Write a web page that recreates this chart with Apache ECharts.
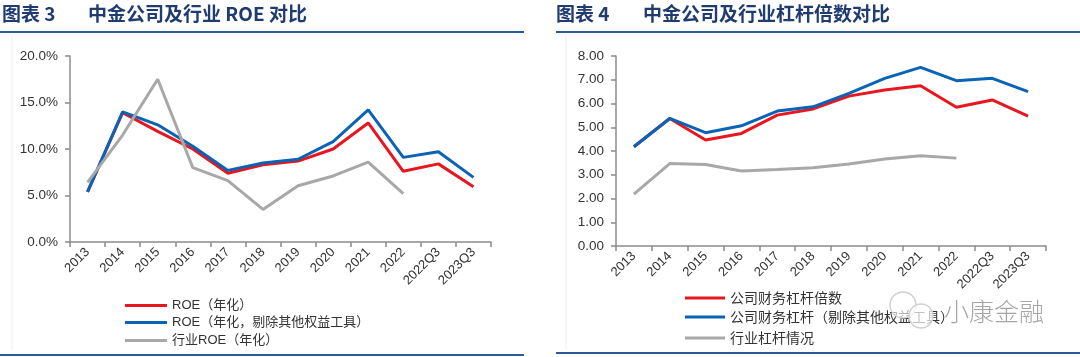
<!DOCTYPE html>
<html>
<head>
<meta charset="utf-8">
<script src="https://cdn.jsdelivr.net/npm/echarts@6/dist/echarts.min.js"></script>
<style>
html,body{margin:0;padding:0;background:#fff;}
#c{width:1080px;height:357px;}
</style>
</head>
<body>
<div id="c"></div>
<script>
const categories = ['2013','2014','2015','2016','2017','2018','2019','2020','2021','2022','2022Q3','2023Q3'];
// Chart 3: ROE (%)
const roe      = [5.4, 13.9, 11.9, 10.0, 7.4, 8.3, 8.7, 10.0, 12.8, 7.6, 8.4, 5.95];
const roeAdj   = [5.4, 14.0, 12.6, 10.3, 7.7, 8.5, 8.9, 10.8, 14.2, 9.1, 9.7, 6.95];
const roeInd   = [6.4, 11.5, 17.5, 8.0, 6.6, 3.5, 6.05, 7.1, 8.6, 5.2, null, null];
// Chart 4: leverage multiples
const lev      = [4.18, 5.37, 4.46, 4.74, 5.51, 5.77, 6.31, 6.57, 6.75, 5.84, 6.15, 5.47];
const levAdj   = [4.18, 5.37, 4.77, 5.06, 5.68, 5.86, 6.43, 7.06, 7.52, 6.96, 7.06, 6.50];
const levInd   = [2.18, 3.47, 3.43, 3.16, 3.22, 3.29, 3.45, 3.66, 3.80, 3.70, null, null];

const roeNames = ['ROE（年化）', 'ROE（年化，剔除其他权益工具）', '行业ROE（年化）'];
const levNames = ['公司财务杠杆倍数', '公司财务杠杆（剔除其他权益工具）', '行业杠杆情况'];
const title3a = '图表 3', title3b = '中金公司及行业 ROE 对比';
const title4a = '图表 4', title4b = '中金公司及行业杠杆倍数对比';
const watermark = '小康金融';

const RED = '#E8161E', BLUE = '#0A63B5', GRAY = '#A8A8A8';
const AXIS = '#8C8C8C', TXT = '#333333';
const FONT = '"Liberation Sans","Noto Sans CJK SC",sans-serif';
const CJK = '"Noto Sans CJK SC",sans-serif';
const TITLE_C = '#1F3B70', RULE_C = '#2D5A9B';

const chart = echarts.init(document.getElementById('c'), null, {renderer: 'canvas'});

function xAxis(gi) {
  return {
    type: 'category', gridIndex: gi, data: categories, boundaryGap: true,
    axisLine: {lineStyle: {color: AXIS, width: 1.5}},
    axisTick: {show: true, length: 5, alignWithLabel: false, lineStyle: {color: AXIS, width: 1.5}},
    axisLabel: {rotate: 45, interval: 0, fontSize: 13, color: TXT, fontFamily: FONT, margin: 8}
  };
}
function yAxis(gi, max, interval, fmt) {
  return {
    type: 'value', gridIndex: gi, min: 0, max: max, interval: interval,
    splitLine: {show: false},
    axisLine: {show: true, lineStyle: {color: AXIS, width: 1.5}},
    axisTick: {show: true, length: 5, lineStyle: {color: AXIS, width: 1.5}},
    axisLabel: {fontSize: 13.5, color: TXT, fontFamily: FONT, margin: 12, formatter: fmt}
  };
}
function line(name, data, color, xi) {
  return {
    name: name, type: 'line', data: data, xAxisIndex: xi, yAxisIndex: xi,
    symbol: 'none', smooth: false, connectNulls: false,
    lineStyle: {color: color, width: 3}, itemStyle: {color: color},
    emphasis: {disabled: true}, animation: false
  };
}
function leg(name, left, top, fs, fam, w) {
  return {
    data: [name], orient: 'horizontal', left: left, top: top,
    itemWidth: w, itemHeight: 3, icon: 'rect', padding: 0,
    textStyle: {fontSize: fs, color: TXT, fontFamily: fam},
    selectedMode: false
  };
}

const option = {
  animation: false,
  backgroundColor: '#ffffff',
  grid: [
    {left: 70, top: 56, width: 421, height: 186},
    {left: 616, top: 56, width: 430, height: 190}
  ],
  xAxis: [xAxis(0), xAxis(1)],
  yAxis: [
    yAxis(0, 20, 5, v => v.toFixed(1) + '%'),
    yAxis(1, 8, 1, v => v.toFixed(2))
  ],
  legend: [
    leg(roeNames[0], 125, 299, 13, FONT, 42),
    leg(roeNames[1], 125, 316, 13, FONT, 42),
    leg(roeNames[2], 125, 334, 13, FONT, 42),
    leg(levNames[0], 685, 291, 14, CJK, 40),
    leg(levNames[1], 685, 310, 14, CJK, 40),
    leg(levNames[2], 685, 331, 14, CJK, 40)
  ],
  series: [
    line(roeNames[0], roe, RED, 0),
    line(roeNames[1], roeAdj, BLUE, 0),
    line(roeNames[2], roeInd, GRAY, 0),
    line(levNames[0], lev, RED, 1),
    line(levNames[1], levAdj, BLUE, 1),
    line(levNames[2], levInd, GRAY, 1)
  ],
  graphic: [
    {type: 'line', shape: {x1: 12, y1: 36, x2: 12, y2: 350}, style: {stroke: '#efefef', lineWidth: 1}, silent: true},
    {type: 'line', shape: {x1: 566, y1: 36, x2: 566, y2: 350}, style: {stroke: '#efefef', lineWidth: 1}, silent: true},
    {type: 'text', left: 2, top: 4, style: {text: title3a, font: 'bold 19px ' + CJK, fill: TITLE_C}},
    {type: 'text', left: 88, top: 4, style: {text: title3b, font: 'bold 19px ' + CJK, fill: TITLE_C}},
    {type: 'text', left: 556, top: 4, style: {text: title4a, font: 'bold 19px ' + CJK, fill: TITLE_C}},
    {type: 'text', left: 643, top: 4, style: {text: title4b, font: 'bold 19px ' + CJK, fill: TITLE_C}},
    {type: 'rect', shape: {x: 0, y: 31, width: 524, height: 2}, style: {fill: RULE_C}, silent: true},
    {type: 'rect', shape: {x: 556, y: 31, width: 524, height: 2}, style: {fill: RULE_C}, silent: true},
    {type: 'rect', shape: {x: 0, y: 354, width: 524, height: 2}, style: {fill: RULE_C}, silent: true},
    {type: 'rect', shape: {x: 556, y: 352, width: 524, height: 2}, style: {fill: RULE_C}, silent: true},
    {type: 'circle', shape: {cx: 903, cy: 305, r: 13}, style: {fill: 'rgba(255,255,255,0.6)', stroke: '#d0d0d0', lineWidth: 1.5}, silent: true, z: 100},
    {type: 'circle', shape: {cx: 921, cy: 316, r: 12}, style: {fill: 'rgba(255,255,255,0.7)', stroke: '#d0d0d0', lineWidth: 1.5}, silent: true, z: 100},
    {type: 'text', left: 944, top: 299, z: 100, style: {text: watermark, font: '300 25px ' + CJK, fill: '#a6a6a6'}}
  ]
};
chart.setOption(option);
</script>
</body>
</html>
